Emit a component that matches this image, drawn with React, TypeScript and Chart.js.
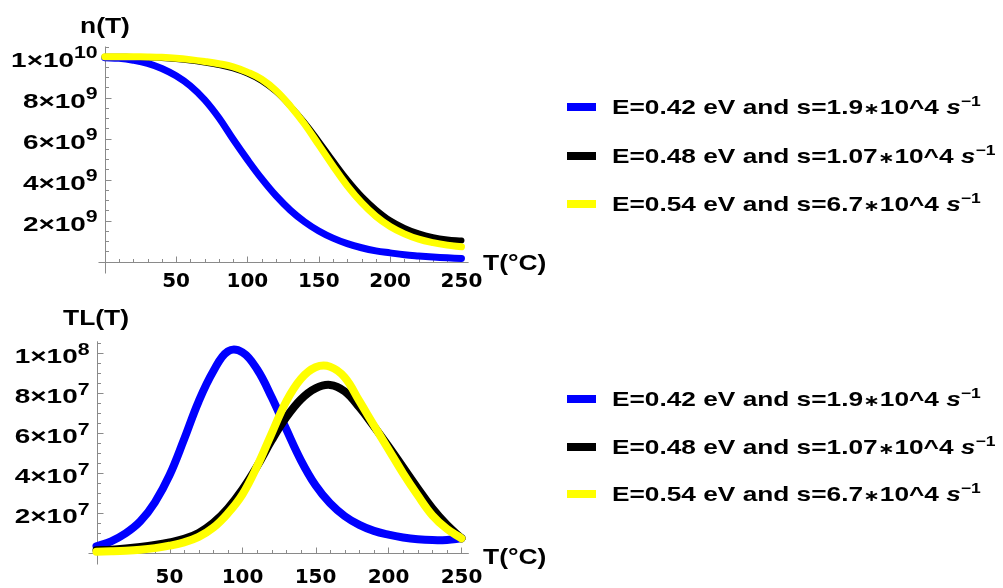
import React, { useEffect, useRef } from "react";
import { Chart, registerables } from "chart.js";

Chart.register(...registerables);

// ---------- data ----------
const temperatures = [0, 10, 20, 30, 40, 50, 60, 70, 80, 90, 100, 110, 120, 130, 140, 150, 160, 170, 180, 190, 200, 210, 220, 230, 240, 250];

// n(T) in units of 1e9
const nBlue = [9.95, 9.92, 9.83, 9.68, 9.43, 9.07, 8.58, 7.9, 7.02, 5.97, 4.98, 4.05, 3.22, 2.52, 1.95, 1.5, 1.15, 0.88, 0.68, 0.53, 0.43, 0.34, 0.28, 0.23, 0.19, 0.16];
const nBlack = [10.0, 10.0, 9.99, 9.97, 9.94, 9.89, 9.82, 9.72, 9.6, 9.43, 9.18, 8.82, 8.3, 7.6, 6.8, 5.88, 4.92, 4.0, 3.2, 2.55, 2.02, 1.65, 1.38, 1.2, 1.09, 1.03];
const nYellow = [10.0, 10.0, 10.0, 9.99, 9.97, 9.93, 9.86, 9.77, 9.66, 9.51, 9.25, 8.9, 8.35, 7.6, 6.72, 5.7, 4.67, 3.7, 2.88, 2.22, 1.72, 1.36, 1.1, 0.93, 0.81, 0.73];

// TL(T) in units of 1e7
const tlBlue = [0.35, 0.6, 1.0, 1.6, 2.55, 3.9, 5.7, 7.6, 9.1, 10.1, 10.05, 9.2, 7.8, 6.2, 4.65, 3.4, 2.5, 1.86, 1.42, 1.12, 0.93, 0.79, 0.7, 0.66, 0.67, 0.75];
const tlBlack = [0.15, 0.18, 0.24, 0.32, 0.42, 0.55, 0.72, 1.02, 1.52, 2.25, 3.2, 4.35, 5.65, 6.8, 7.7, 8.25, 8.42, 8.1, 7.3, 6.35, 5.35, 4.3, 3.25, 2.25, 1.42, 0.75];
const tlYellow = [0.08, 0.1, 0.13, 0.18, 0.26, 0.38, 0.55, 0.82, 1.28, 2.0, 2.95, 4.35, 6.0, 7.6, 8.72, 9.3, 9.33, 8.8, 7.62, 6.4, 5.2, 4.0, 2.9, 1.9, 1.22, 0.75];

const N_UNIT = 1e9;
const TL_UNIT = 1e7;

const xTickValues = [50, 100, 150, 200, 250];
const nTickValues = [2e9, 4e9, 6e9, 8e9, 1e10];
const tlTickValues = [2e7, 4e7, 6e7, 8e7, 1e8];

const seriesColors = ["#0000ff", "#000000", "#ffff00"];
const energies = ["0.42", "0.48", "0.54"];
const frequencies = ["1.9", "1.07", "6.7"];

// ---------- helpers ----------
const AXIS_GREY = "#8a8a8a";
const LABEL_FAMILY = '"Liberation Sans", Arial, sans-serif';
const LABEL_STRETCH = 1.33;

const axesPlugin = {
  id: "mathAxes",
  beforeDatasetsDraw(chart: any) {
    const o = chart.options.plugins.mathAxes;
    const { ctx, chartArea: ca } = chart;
    const xs = chart.scales.x;
    const ys = chart.scales.y;
    const x0 = Math.round(xs.getPixelForValue(0)) + 0.5;
    const y0 = Math.round(ys.getPixelForValue(0)) + 0.5;
    ctx.save();
    ctx.strokeStyle = AXIS_GREY;
    ctx.lineWidth = 1;
    ctx.beginPath();
    ctx.moveTo(x0 - o.xLeftExt, y0);
    ctx.lineTo(ca.right, y0);
    ctx.moveTo(x0, ca.top);
    ctx.lineTo(x0, y0 + o.yDownExt);
    const nx = Math.floor(xs.max / o.xMinor + 1e-9);
    for (let k = 1; k <= nx; k++) {
      const px = Math.round(xs.getPixelForValue(k * o.xMinor)) + 0.5;
      const len = k % o.xMajorEvery === 0 ? 6 : 3.5;
      ctx.moveTo(px, y0);
      ctx.lineTo(px, y0 - len);
    }
    const ny = Math.floor(ys.max / o.yMinor + 1e-9);
    for (let k = 1; k <= ny; k++) {
      const py = Math.round(ys.getPixelForValue(k * o.yMinor)) + 0.5;
      const len = k % o.yMajorEvery === 0 ? 6 : 3.5;
      ctx.moveTo(x0, py);
      ctx.lineTo(x0 + len, py);
    }
    ctx.stroke();
    ctx.restore();
  },
  afterDraw(chart: any) {
    // y tick labels of the form m×10^e, placed from the y scale's own ticks
    const { ctx, chartArea: ca } = chart;
    const ys = chart.scales.y;
    ctx.save();
    ctx.fillStyle = "#000";
    ctx.textBaseline = "alphabetic";
    ctx.textAlign = "left";
    for (const t of ys.ticks) {
      const v = t.value;
      const e = Math.floor(Math.log10(v) + 1e-9);
      const m = Math.round(v / Math.pow(10, e));
      const mainText = `${m}\u00d710`;
      const supText = String(e);
      const py = ys.getPixelForValue(v);
      ctx.font = `bold 21px ${LABEL_FAMILY}`;
      const wMain = ctx.measureText(mainText).width * LABEL_STRETCH;
      ctx.font = `bold 16px ${LABEL_FAMILY}`;
      const wSup = ctx.measureText(supText).width * LABEL_STRETCH;
      const right = ca.left - 7;
      const xSup = right - wSup;
      const xMain = xSup - wMain;
      ctx.save();
      ctx.translate(xMain, py + 10);
      ctx.scale(LABEL_STRETCH, 1);
      ctx.font = `bold 21px ${LABEL_FAMILY}`;
      ctx.fillText(mainText, 0, 0);
      ctx.restore();
      ctx.save();
      ctx.translate(xSup, py + 1.7);
      ctx.scale(LABEL_STRETCH, 1);
      ctx.font = `bold 16px ${LABEL_FAMILY}`;
      ctx.fillText(supText, 0, 0);
      ctx.restore();
    }
    ctx.restore();
  },
};

type PanelProps = {
  series: number[][];
  unit: number;
  yMax: number;
  yTicks: number[];
  yMinor: number;
  widths: number[];
  top: number;
  padTop: number;
  padRight: number;
  padBottom: number;
  yWidth: number;
  xPad: number;
  xLeftExt: number;
  yDownExt: number;
};

const tickFont = { family: '"DejaVu Sans", "Liberation Sans", sans-serif', size: 20, weight: "bold" as const };

function Panel(p: PanelProps) {
  const ref = useRef<HTMLCanvasElement>(null);
  useEffect(() => {
    if (!ref.current) return;
    const chart = new Chart(ref.current, {
      type: "line",
      data: {
        datasets: p.series.map((vals, i) => ({
          label: `E=${energies[i]} eV`,
          data: temperatures.map((t, k) => ({ x: t, y: vals[k] * p.unit })),
          borderColor: seriesColors[i],
          backgroundColor: seriesColors[i],
          borderWidth: p.widths[i],
          pointRadius: 0,
          tension: 0.4,
          borderCapStyle: "round" as const,
          borderJoinStyle: "round" as const,
          fill: false,
          clip: false as any,
          order: 3 - i,
        })),
      },
      options: {
        responsive: false,
        animation: false,
        devicePixelRatio: 1,
        layout: { padding: { left: 0, top: p.padTop, right: p.padRight, bottom: p.padBottom } },
        plugins: {
          legend: { display: false },
          tooltip: { enabled: false },
          mathAxes: { xMinor: 10, xMajorEvery: 5, yMinor: p.yMinor, yMajorEvery: 4, xLeftExt: p.xLeftExt, yDownExt: p.yDownExt },
        } as any,
        scales: {
          x: {
            type: "linear",
            min: 0,
            max: 255,
            grid: { display: false, drawTicks: false },
            border: { display: false },
            afterBuildTicks: (s: any) => {
              s.ticks = xTickValues.map((v) => ({ value: v }));
            },
            afterFit: (s: any) => {
              s.height = 30;
            },
            ticks: { font: tickFont, color: "#000", padding: p.xPad, maxRotation: 0, autoSkip: false },
          },
          y: {
            type: "linear",
            min: 0,
            max: p.yMax,
            grid: { display: false, drawTicks: false },
            border: { display: false },
            afterBuildTicks: (s: any) => {
              s.ticks = p.yTicks.map((v) => ({ value: v }));
            },
            afterFit: (s: any) => {
              s.width = p.yWidth;
            },
            ticks: { display: false },
          },
        },
      },
      plugins: [axesPlugin as any],
    });
    return () => chart.destroy();
  }, []);
  return (
    <canvas
      ref={ref}
      width={1003}
      height={294}
      style={{ position: "absolute", left: 0, top: p.top, width: 1003, height: 294, display: "block" }}
    />
  );
}

const textBase: React.CSSProperties = {
  position: "absolute",
  fontFamily: '"Liberation Sans", Arial, "DejaVu Sans", sans-serif',
  fontWeight: "bold",
  whiteSpace: "nowrap",
  color: "#000",
  transformOrigin: "left center",
};

function Label({ x, y, size, scale, children }: { x: number; y: number; size: number; scale: number; children: React.ReactNode }) {
  return (
    <div style={{ ...textBase, left: x, top: y, fontSize: size, lineHeight: `${size + 3}px`, transform: `scaleX(${scale})` }}>
      {children}
    </div>
  );
}

function Legend({ centers }: { centers: number[] }) {
  return (
    <>
      {centers.map((cy, i) => (
        <React.Fragment key={i}>
          <div style={{ position: "absolute", left: 567, top: cy - 4, width: 29, height: 8, background: seriesColors[i] }} />
          <Label x={612} y={cy - 12} size={21} scale={1.25}>
            E={energies[i]} eV and s={frequencies[i]}
            <span style={{ fontSize: 16, fontFamily: '"DejaVu Sans", sans-serif' }}>{"\u2217"}</span>
            10^4{" "}
            <i>s</i>
            <sup style={{ fontSize: 14, verticalAlign: "8px", lineHeight: 0 }}>{"\u22121"}</sup>
          </Label>
        </React.Fragment>
      ))}
    </>
  );
}

export default function App() {
  return (
    <div style={{ position: "fixed", left: 0, top: 0, width: 1003, height: 588, background: "#fff", overflow: "hidden" }}>
      <Panel
        series={[nBlue, nBlack, nYellow]}
        unit={N_UNIT}
        yMax={1.05e10}
        yTicks={nTickValues}
        yMinor={5e8}
        widths={[7, 6, 7]}
        top={0}
        padTop={46.5}
        padRight={534.4}
        padBottom={2.3}
        yWidth={104.7}
        xPad={8}
        xLeftExt={7}
        yDownExt={11}
      />
      <Panel
        series={[tlBlue, tlBlack, tlYellow]}
        unit={TL_UNIT}
        yMax={1.06e8}
        yTicks={tlTickValues}
        yMinor={5e6}
        widths={[8, 8, 8]}
        top={294}
        padTop={47.3}
        padRight={534.2}
        padBottom={4.7}
        yWidth={96.5}
        xPad={12}
        xLeftExt={9}
        yDownExt={11}
      />
      <Label x={80} y={13} size={22} scale={1.2}>n(T)</Label>
      <Label x={63} y={305} size={22} scale={1.2}>TL(T)</Label>
      <Label x={483} y={250} size={22} scale={1.2}>T(°C)</Label>
      <Label x={483} y={544} size={22} scale={1.2}>T(°C)</Label>
      <Legend centers={[107, 155.5, 203.5]} />
      <Legend centers={[398.5, 446.5, 493.5]} />
    </div>
  );
}
